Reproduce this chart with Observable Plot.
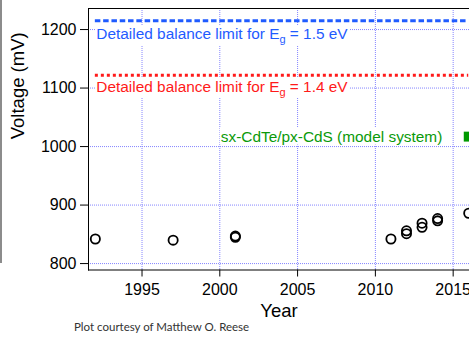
<!DOCTYPE html>
<html><head><meta charset="utf-8">
<script src="https://cdn.jsdelivr.net/npm/d3@7"></script>
<script src="https://cdn.jsdelivr.net/npm/@observablehq/plot@0.6"></script>
<style>
body{margin:0;background:#fff;overflow:hidden}
#wrap{position:relative;width:469px;height:338px;overflow:hidden}
#bar{position:absolute;left:0;top:0;width:2px;height:263px;background:#8c8c8c}
#cap{position:absolute;left:74px;top:320px;font:11.5px Lato, sans-serif;color:#333;white-space:nowrap}
</style></head><body>
<div id="wrap"><div id="chart"></div><div id="bar"></div><div id="cap">Plot courtesy of Matthew O. Reese</div></div>
<script>
// measured open-circuit voltages (black open circles)
const years = [1992, 1997, 2001, 2001, 2011, 2012, 2012, 2013, 2013, 2014, 2014, 2016];
const voc   = [842, 840, 845, 847, 842, 851, 856, 862, 869, 873, 877, 886];
// model system (green square)
const modelYear = [2016];
const modelVoc = [1017];
// detailed balance limits
const limitNames = ["Detailed balance limit for Eg = 1.5 eV", "Detailed balance limit for Eg = 1.4 eV"];
const limitVoc = [1215, 1122];
const limitStart = 1992, limitEnd = 2016;
// annotation labels
const labelText = ["Detailed balance limit for Eg = 1.5 eV", "Detailed balance limit for Eg = 1.4 eV", "sx-CdTe/px-CdS (model system)"];
const labelYear = [1992, 1992, 2000];
const labelVoc = [1192, 1102, 1017];
const labelColor = ["#1f5bff", "#ff1a1a", "#0a9a0a"];
// axes
const xTicks = [1995, 2000, 2005, 2010, 2015];
const yTicks = [800, 900, 1000, 1100, 1200];
const xDomain = [1991.56, 2016.05];
const yDomain = [789, 1236];

const labels = labelText.map((t, i) => ({t, x: labelYear[i], y: labelVoc[i], c: labelColor[i]}));

const grid = "#8585ff";
const plot = Plot.plot({
  width: 469, height: 338,
  marginTop: 8, marginBottom: 68.5, marginLeft: 88, marginRight: 0,
  style: {fontFamily: "'Liberation Sans', Arial, sans-serif", fontSize: "16px", color: "#000", background: "transparent"},
  x: {domain: xDomain, ticks: xTicks, tickFormat: "d", tickSize: 7, tickPadding: 7, label: null, line: true},
  y: {domain: yDomain, ticks: yTicks, tickFormat: "d", tickSize: 8, tickPadding: 4, label: null, line: true},
  marks: [
    Plot.ruleX(xTicks, {stroke: grid, strokeDasharray: "1,1"}),
    Plot.ruleY(yTicks, {stroke: grid, strokeDasharray: "1,1"}),
    Plot.ruleY([yDomain[1]], {stroke: "#000"}),
    Plot.ruleX([xDomain[0]], {stroke: "#000"}),
    Plot.ruleY([limitVoc[0]], {x1: limitStart, x2: limitEnd, stroke: labelColor[0], strokeWidth: 3, strokeDasharray: "5.5,2.8", strokeLinecap: "butt"}),
    Plot.ruleY([limitVoc[1]], {x1: limitStart, x2: limitEnd, stroke: labelColor[1], strokeWidth: 3, strokeDasharray: "3,3", strokeLinecap: "butt"}),
    Plot.text(labels, {x: "x", y: "y", text: "t", fill: "c", textAnchor: "start", lineAnchor: "middle", dx: 1, fontSize: 15.4}),
    Plot.dot(voc, {x: years, y: voc, r: 4.6, stroke: "#000", strokeWidth: 1.8, fill: "none"}),
    Plot.dot(modelVoc, {x: modelYear, y: modelVoc, symbol: "square", r: 5.6, fill: "#009900", stroke: "none"}),
    Plot.text(["Year"], {text: d => d, frameAnchor: "bottom", dy: 41, lineAnchor: "middle", fontSize: 18.5}),
    Plot.text(["Voltage (mV)"], {text: d => d, frameAnchor: "left", dx: -70, rotate: -90, lineAnchor: "middle", fontSize: 18.5})
  ]
});
document.getElementById("chart").appendChild(plot);

// subscript g and white background boxes behind annotation labels
d3.select(plot).selectAll("text").each(function() {
  const el = this;
  const s = el.textContent;
  if (labelText.includes(s)) {
    if (s.includes("Eg")) {
      const [a, b] = s.split("Eg");
      el.textContent = "";
      const t1 = document.createElementNS("http://www.w3.org/2000/svg", "tspan"); t1.textContent = a + "E";
      const t2 = document.createElementNS("http://www.w3.org/2000/svg", "tspan"); t2.textContent = "g";
      t2.setAttribute("dy", "4"); t2.setAttribute("font-size", "11");
      const t3 = document.createElementNS("http://www.w3.org/2000/svg", "tspan"); t3.textContent = b;
      t3.setAttribute("dy", "-4");
      el.append(t1, t2, t3);
    }
    const bb = el.getBBox();
    const r = document.createElementNS("http://www.w3.org/2000/svg", "rect");
    r.setAttribute("x", bb.x - 1); r.setAttribute("y", bb.y);
    r.setAttribute("width", bb.width + 2); r.setAttribute("height", bb.height);
    r.setAttribute("fill", "#fff");
    if (el.getAttribute("transform")) r.setAttribute("transform", el.getAttribute("transform"));
    el.parentNode.insertBefore(r, el);
  }
});
</script>
</body></html>
